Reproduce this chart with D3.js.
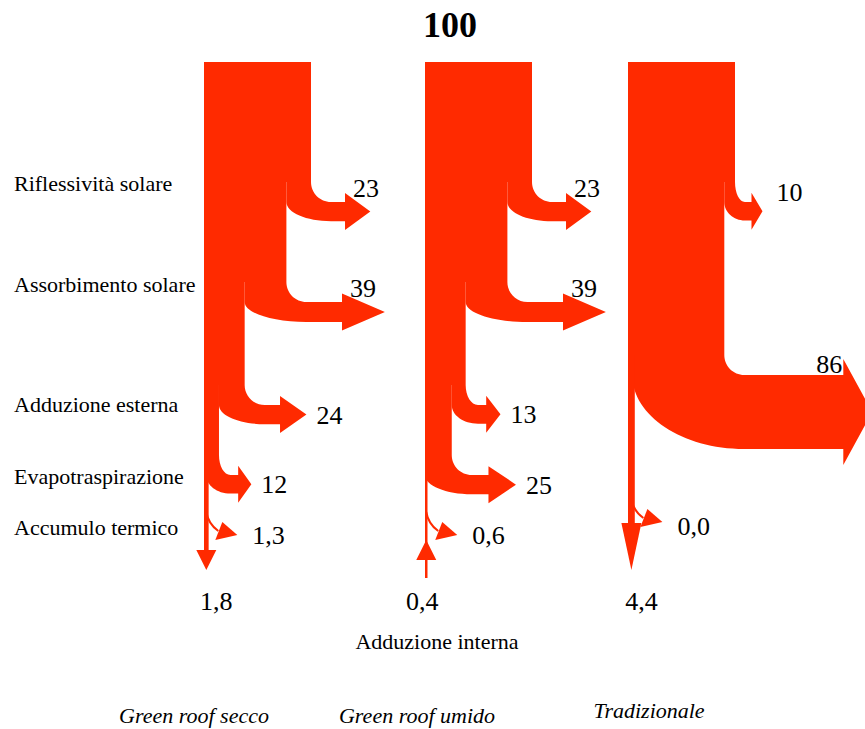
<!DOCTYPE html>
<html>
<head>
<meta charset="utf-8">
<script src="https://cdn.jsdelivr.net/npm/d3@7"></script>
<style>
body { margin: 0; background: #fff; }
</style>
</head>
<body>
<script>
// data
var columns = ["Green roof secco", "Green roof umido", "Tradizionale"];
var rows = ["Riflessività solare", "Assorbimento solare", "Adduzione esterna", "Evapotraspirazione", "Accumulo termico"];
var total = 100;
var seccoFlows = [23, 39, 24, 12, 1.3];
var umidoFlows = [23, 39, 13, 25, 0.6];
var tradFlows = [10, 86, null, null, 0.0];
var internalFlows = [1.8, 0.4, 4.4];
var internalDir = ["out", "in", "out"];
var internalTitle = "Adduzione interna";

var flowSets = [seccoFlows, umidoFlows, tradFlows];

var width = 865, height = 729, top0 = 62, red = "#ff2a00";
var serif = "'Liberation Serif', 'Times New Roman', Times, serif";

var x0 = d3.scaleOrdinal().domain(columns).range([204, 425, 628]);
var w = d3.scaleLinear().domain([0, total]).range([0, 107]);
var branchY = d3.scaleOrdinal().domain(rows).range([182, 282, 385, 455, 512]);
var labelY = d3.scaleOrdinal().domain(rows).range([191, 292, 412, 484, 535]);
// Tradizionale has its big bend lower and its small hook higher
var branchShift = {"Tradizionale": [0, 73, 0, 0, -13]};
var titleX = d3.scaleOrdinal().domain(columns).range([194, 417, 649]);
var titleY = d3.scaleOrdinal().domain(columns).range([723, 723, 718]);

// arrow shape scales
var shaft = d3.scaleLinear().domain([0, 86]).range([3, 119]);
var bandT = d3.scaleLinear().domain([0, 40, 86]).range([18, 20, 74]);
var headH = d3.scaleLinear().domain([0, 40, 86]).range([18.5, 18.5, 53]);
var headL = d3.scaleLinear().domain([0, 40, 86]).range([0, 44, 29]);
var innerHead = d3.scaleLinear().domain([1.8, 4.4]).range([20, 47]).clamp(true);

var loc = d3.formatLocale({decimal: ",", thousands: ".", grouping: [3], currency: ["", "€"]});
function label(v) { return v >= 10 ? loc.format("d")(v) : loc.format(".1f")(v); }

var svg = d3.select("body").append("svg")
    .attr("width", width)
    .attr("height", height)
    .attr("font-family", serif)
    .style("font-family", serif);

var K = 0.5523;

// Returns the bent arrow leaving the bar at yb from right edge xR.
function flowPath(xR, yb, v) {
  var wv = w(v), s = shaft(v), rx = Math.min(20, s * 0.6), ry = 20,
      T = bandT(v), H = headH(v), L = headL(v),
      bx = xR + s, yTop = yb + ry, yBot = yTop + T, yc = yTop + T / 2,
      RX = wv + rx, RY = T;
  var p = d3.path();
  p.moveTo(xR - wv, yb);
  p.lineTo(xR, yb);
  p.bezierCurveTo(xR, yb + K * ry, xR + rx * (1 - K), yTop, xR + rx, yTop);
  p.lineTo(bx, yTop);
  p.lineTo(bx, yc - H);
  p.lineTo(bx + L, yc);
  p.lineTo(bx, yc + H);
  p.lineTo(bx, yBot);
  p.lineTo(xR + rx, yBot);
  p.bezierCurveTo(xR + rx - K * RX, yBot, xR - wv, yTop + K * RY, xR - wv, yTop);
  p.closePath();
  return {d: p.toString(), bx: bx, tip: bx + L, yc: yc, H: H, yTop: yTop};
}

var numSize = 26;

function addNumber(g, x, y, txt, anchor) {
  return g.append("text")
      .attr("x", x).attr("y", y)
      .attr("text-anchor", anchor || "start")
      .attr("font-size", numSize)
      .attr("fill", "#000")
      .text(txt);
}

columns.forEach(function(col, ci) {
  var flows = flowSets[ci], xl = x0(col), rem = total, yPrev = top0;
  var shift = branchShift[col] || [0, 0, 0, 0, 0];
  var g = svg.append("g").attr("class", "column");

  flows.forEach(function(v, ri) {
    if (v == null || v < 2) return;
    var yb = branchY(rows[ri]) + shift[ri];
    g.append("rect")
        .attr("x", xl).attr("y", yPrev)
        .attr("width", w(rem)).attr("height", yb - yPrev)
        .attr("fill", red);
    var xR = xl + w(rem);
    rem -= v;
    var f = flowPath(xR, yb, v);
    g.append("path").attr("d", f.d).attr("fill", red);

    if (v > 60) {
      addNumber(g, f.bx - 1, f.yTop - 2, label(v), "end");
    } else if (ri < 2 && ci < 2) {
      addNumber(g, f.bx + 8, f.yc - f.H + 4, label(v));
    } else if (ri < 2) {
      addNumber(g, f.tip + 14, f.yc - 10, label(v));
    } else {
      addNumber(g, f.tip + 10, f.yc + 9, label(v));
    }
    yPrev = yb;
  });

  // thin rest of the bar, carrying the internal flow
  var lw = w(rem) + 2.5, lx = xl + lw / 2;
  var iv = internalFlows[ci], dir = internalDir[ci], hl = innerHead(iv);
  var tipY = dir == "out" ? 570 : 540, lineEnd = dir == "out" ? tipY - hl : 578;
  g.append("rect")
      .attr("x", xl).attr("y", yPrev)
      .attr("width", lw).attr("height", lineEnd - yPrev)
      .attr("fill", red);
  var hp = d3.path();
  if (dir == "out") {
    hp.moveTo(lx - 10, tipY - hl); hp.lineTo(lx + 10, tipY - hl); hp.lineTo(lx, tipY);
  } else {
    hp.moveTo(lx - 10, tipY + hl); hp.lineTo(lx + 10, tipY + hl); hp.lineTo(lx, tipY);
  }
  hp.closePath();
  g.append("path").attr("d", hp.toString()).attr("fill", red);
  addNumber(g, lx + (dir == "in" ? -4 : 10), 610, label(iv), "middle");

  // small hook for the last row
  flows.forEach(function(v, ri) {
    if (v == null || v >= 2) return;
    var yb = branchY(rows[ri]) + shift[ri];
    var hook = d3.path();
    hook.moveTo(lx, yb);
    hook.quadraticCurveTo(lx + 2, yb + 12, lx + 12, yb + 19);
    g.append("path").attr("d", hook.toString())
        .attr("fill", "none").attr("stroke", red).attr("stroke-width", 2);
    var hd = d3.path();
    hd.moveTo(lx + 16, yb + 10); hd.lineTo(lx + 31, yb + 23); hd.lineTo(lx + 9, yb + 28);
    hd.closePath();
    g.append("path").attr("d", hd.toString()).attr("fill", red);
    addNumber(g, lx + 46, yb + 32 + (ci == 2 ? 4 : 0), label(v));
  });

  svg.append("text")
      .attr("x", titleX(col)).attr("y", titleY(col))
      .attr("text-anchor", "middle").attr("font-size", 22)
      .attr("font-style", "italic")
      .text(col);
});

// row names on the left
svg.selectAll(".rowlabel")
    .data(rows)
  .enter().append("text")
    .attr("class", "rowlabel")
    .attr("x", 14)
    .attr("y", function(d) { return labelY(d); })
    .attr("font-size", 22)
    .text(function(d) { return d; });

svg.append("text")
    .attr("x", 437).attr("y", 649)
    .attr("text-anchor", "middle").attr("font-size", 22)
    .text(internalTitle);

svg.append("text")
    .attr("x", 450).attr("y", 37)
    .attr("text-anchor", "middle").attr("font-size", 36)
    .attr("font-weight", "bold")
    .text(total);
</script>
</body>
</html>
